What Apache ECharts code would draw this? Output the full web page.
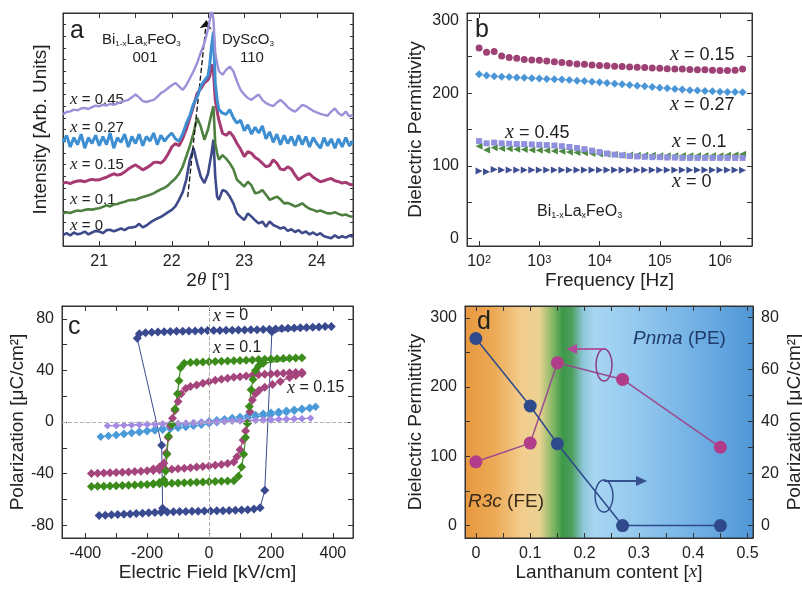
<!DOCTYPE html>
<html><head><meta charset="utf-8">
<script src="https://cdn.jsdelivr.net/npm/echarts@6/dist/echarts.min.js"></script>
<style>html,body{margin:0;padding:0;background:#fff}#c{width:802px;height:590px}</style>
</head><body><div id="c"></div><script>
// ---------- Panel a: XRD ----------
const twoTheta = [20.5,20.55,20.6,20.65,20.7,20.75,20.8,20.85,20.9,20.95,
21.0,21.05,21.1,21.15,21.2,21.25,21.3,21.35,21.4,21.45,
21.5,21.55,21.6,21.65,21.7,21.75,21.8,21.85,21.9,21.95,
22.0,22.05,22.1,22.15,22.2,22.25,22.3,22.35,22.4,22.45,
22.5,22.525,22.55,22.575,22.6,22.625,22.65,22.7,22.75,22.8,
22.85,22.9,22.95,23.0,23.05,23.1,23.15,23.2,23.25,23.3,
23.35,23.4,23.45,23.5,23.55,23.6,23.65,23.7,23.75,23.8,
23.85,23.9,23.95,24.0,24.05,24.1,24.15,24.2,24.25,24.3,
24.35,24.4,24.45,24.5];
const xrd045 = [56.5,57.5,57.8,58.5,58.2,59.0,59.3,58.8,59.6,60.2,
60.0,60.6,60.3,61.0,60.6,61.2,61.8,62.3,62.7,63.8,
65.0,63.8,62.2,61.8,62.3,62.7,64.0,65.6,66.5,67.8,
69.0,70.0,68.5,67.0,69.0,72.0,75.0,78.5,83.0,87.0,
93.0,97.0,102,97.0,83.0,78.5,75.0,73.5,75.6,77.0,
75.0,70.6,67.0,65.0,63.5,62.7,64.0,65.0,62.7,61.3,
60.6,60.0,61.6,62.7,61.3,59.6,58.4,57.7,59.0,60.6,
60.0,59.0,58.0,57.3,56.7,56.3,55.9,57.7,59.0,57.0,
56.0,57.7,55.6,56.3];
const xrd027 = [44.5,47.5,42.5,46.5,43.5,48.0,42.0,46.5,44.0,47.5,
43.0,47.0,43.5,48.5,42.0,46.5,44.5,48.0,42.5,47.0,
44.0,48.0,43.0,47.0,45.0,48.5,43.5,47.5,45.0,47.0,
48.5,46.0,45.0,48.0,52.5,56.0,61.0,64.0,68.5,71.0,
73.0,78.0,86.0,92.0,70.0,63.0,58.5,57.0,56.5,58.5,
55.0,52.7,54.0,49.5,52.0,48.0,51.0,48.5,51.5,46.0,
49.0,44.5,48.0,43.5,47.5,44.0,47.0,43.0,47.5,43.5,
47.0,42.5,46.5,44.0,42.0,46.5,43.0,46.0,42.0,46.0,
42.5,46.5,43.0,45.0];
const xrd015 = [27.0,27.3,26.8,27.5,27.9,28.0,27.6,28.2,28.6,28.3,
28.4,29.0,29.5,30.3,31.0,30.4,30.8,31.8,33.0,34.0,
34.8,33.8,32.7,33.5,34.5,35.8,36.0,35.6,37.0,39.5,
42.5,44.0,43.0,46.0,50.0,55.0,60.0,65.5,67.5,70.0,
71.3,73.0,78.0,75.0,62.7,58.0,54.0,48.4,47.5,49.0,
47.0,44.0,41.5,38.4,40.5,39.8,38.0,37.0,35.5,34.0,
34.5,37.0,35.5,33.0,32.7,34.0,33.0,30.5,28.4,29.5,
30.5,31.0,29.5,28.5,27.6,28.0,28.6,29.0,28.0,27.6,
27.0,27.3,26.5,26.2];
const xrd010 = [14.0,14.5,14.2,14.8,15.2,15.0,15.5,15.8,15.6,16.0,
16.2,16.8,17.5,17.0,17.8,18.0,18.6,19.0,19.5,19.8,
19.8,20.5,21.0,21.5,22.0,22.6,23.5,24.3,25.0,26.0,
27.6,29.0,31.0,34.0,38.4,43.0,48.4,55.0,51.3,45.6,
50.0,53.5,57.0,60.0,44.0,40.0,37.0,39.0,37.5,35.5,
33.0,28.4,27.0,25.5,27.6,26.0,22.6,23.0,24.0,22.0,
19.8,20.5,21.2,20.0,18.3,18.5,17.8,17.0,17.5,18.3,
17.0,16.0,15.5,14.8,15.2,14.6,14.0,14.0,14.5,13.8,
13.2,13.5,12.8,12.6];
const xrd000 = [4.7,5.5,4.5,5.8,5.0,5.4,6.2,5.0,5.8,6.5,
6.2,5.5,6.8,7.0,6.3,6.9,7.5,6.8,7.8,8.0,
8.3,9.5,8.0,8.8,10.0,11.0,11.8,12.5,13.5,14.5,
15.5,17.0,19.8,23.0,28.4,37.0,42.0,35.5,29.8,27.0,
31.0,35.5,40.0,45.6,29.8,21.2,19.8,24.0,23.4,21.2,
18.3,14.0,12.5,11.2,14.0,12.6,11.0,9.7,10.5,8.3,
10.5,9.0,8.3,7.5,8.0,6.5,7.2,6.0,6.8,5.5,
6.2,5.0,5.8,4.7,5.5,4.2,3.8,3.3,4.6,3.5,
4.2,3.6,4.5,4.0];
const arrowStart = [22.22, 21];
const arrowEnd = [22.48, 97];

// ---------- Panel b: dielectric vs frequency ----------
const freq = [100,133,178,237,316,422,562,750,1000,1330,1780,2370,3160,4220,5620,7500,
10000,13300,17800,23700,31600,42200,56200,75000,100000,133000,178000,237000,316000,422000,562000,750000,
1000000,1330000,1780000,2370000];
const eps015 = [262,256,257,251,249,248,246,245.5,245,244,243,242,241,240,239.5,238.5,238,237.5,237,236.5,
236,235.5,235,234.5,234,233.5,233,233,232.5,232,232,231.5,231,231,231.5,233];
const eps027 = [226,224,223,222.5,222,221.5,221,220.5,220,219.5,219,218.5,218,217,216.5,215.5,215,214,213,212,
211,210,209.5,208.5,207.5,206.5,205.5,205,204,203.5,203,202.5,202,201.5,201.5,201];
const eps045 = [134,131,132,131,130.5,130,130,129.5,129,128.5,128,127,126,124.5,123,121,119,117,115.5,114.5,
113.5,113,112.5,112,112,111.5,111.5,111,111,111,111,111,111,111,111,111];
const eps010 = [127,122,125,124,123.5,123,122.5,122,121.5,121,120.5,120,119,118.5,118,117,116.5,116,115.5,115,
115,114.5,114.5,114.5,114,114,114,114,114,114,114,114,114,114.5,115,116];
const eps000 = [93,92,95,94.5,94.5,94.5,94.5,94.5,94.5,94.5,94.5,94.5,94.5,94.5,94.5,94.5,94.5,94.5,94.5,94.5,
94.5,94.5,94.5,94.5,94.5,94.5,94.5,94.5,94.5,94.5,94.5,94.5,94.5,94.5,94.5,94];

// ---------- Panel c: hysteresis loops ----------
const navyLowE = [-355,-335,-315,-295,-275,-255,-235,-215,-195,-175,-155,-135,-115,-95,-75,-55,-35,-15,5,25,45,65,85,105,125,145,165,180,203];
const navyLowP = [-72.5,-72.3,-72,-71.8,-71.6,-71.3,-71,-70.8,-70.5,-70.2,-70,-69.8,-69.6,-69.5,-69.4,-69.3,-69.2,-69.1,-69,-68.9,-68.8,-68.6,-68.4,-68.2,-68,-67.5,-66.5,-53,70];
const navyUpE = [395,375,355,335,315,295,275,255,235,215,195,175,155,135,115,95,75,55,35,15,-5,-25,-45,-65,-85,-105,-125,-145,-165,-185,-205,-225,-232,-153,-150];
const navyUpP = [74,74,73.8,73.6,73.4,73.2,73,72.8,72.5,72.2,72,71.8,71.6,71.5,71.4,71.3,71.2,71.1,71,71,70.9,70.8,70.7,70.6,70.5,70.4,70.2,70,69.8,69.6,69.3,68.5,65,-18,-67];
const greenLowE = [-380,-360,-340,-320,-300,-280,-260,-240,-220,-200,-180,-160,-140,-120,-100,-80,-60,-40,-20,0,20,40,60,80,95,105,112,118,124,130,136,142,150,160,175];
const greenLowP = [-50,-49.9,-49.8,-49.6,-49.4,-49.2,-49,-48.8,-48.6,-48.4,-48.2,-48,-47.8,-47.6,-47.4,-47.2,-47,-46.8,-46.6,-46.4,-46.2,-46,-45.8,-45.5,-42,-35,-25,-12,-1,12,25,33,40,43.5,45.5];
const greenUpE = [300,280,260,240,220,200,180,160,140,120,100,80,60,40,20,0,-20,-40,-60,-80,-92,-97,-102,-110,-120,-131,-136,-140,-146,-160,-180];
const greenUpP = [49.8,49.6,49.4,49.2,49,48.8,48.6,48.4,48.2,48,47.8,47.6,47.4,47.2,47,46.8,46.6,46.4,46.1,45.5,42,32,22,10,-2,-11,-25,-38,-45,-47,-48];
const magLowE = [-380,-360,-340,-320,-300,-280,-260,-240,-220,-200,-180,-160,-140,-120,-100,-80,-60,-40,-20,0,20,40,60,80,90,100,110,118,124,132,140,150,162,180,205,230,260,280,300];
const magLowP = [-40,-39.8,-39.6,-39.4,-39.2,-39,-38.8,-38.5,-38.2,-37.9,-37.6,-37.3,-37,-36.6,-36.2,-35.8,-35.4,-35,-34.6,-34.2,-33.6,-33,-32.2,-31,-27,-21.5,-14,-7,-1,8,17,22,24.7,27,29,31.5,34.5,36,37.5];
const magUpE = [300,280,260,240,220,200,180,160,140,120,100,80,60,40,20,0,-20,-40,-60,-75,-90,-100,-110,-118,-125,-132,-138,-146,-160,-180];
const magUpP = [38.6,38.4,38.2,37.9,37.6,37.3,37,36.6,36.2,35.7,35.2,34.7,34,33.2,32.3,31.2,30,28.8,27.5,26,22,16,9,3,-3,-12,-24,-32,-35,-36.5];
const lbE = [-350,-325,-300,-275,-250,-225,-200,-175,-150,-125,-100,-75,-50,-25,0,25,50,75,100,125,150,175,200,225,250,275,300,325,344];
const lbLow = [-11.5,-10.9,-10.2,-9.5,-8.8,-8.1,-7.4,-6.8,-6.2,-5.5,-4.7,-4.0,-3.2,-2.3,-1.3,-0.3,0.6,1.5,2.3,3.1,3.9,4.8,5.7,6.6,7.5,8.5,9.5,10.5,11.8];
const lbUp = [-11.5,-10.7,-9.9,-9.0,-8.2,-7.3,-6.5,-5.6,-4.7,-3.8,-2.9,-2.0,-1.1,-0.2,0.7,1.6,2.4,3.3,4.1,4.9,5.7,6.5,7.3,8.1,8.9,9.7,10.5,11.2,11.8];
const laE = [-328,-300,-275,-250,-225,-200,-175,-150,-125,-100,-75,-50,-25,0,25,50,75,100,125,150,175,200,225,250,275,300,328];
const laLow = [-3.0,-3.0,-2.8,-2.6,-2.4,-2.2,-2.0,-1.8,-1.5,-1.3,-1.1,-0.9,-0.6,-0.4,-0.2,0.1,0.3,0.5,0.8,1.0,1.2,1.4,1.7,1.9,2.1,2.4,2.9];
const laUp = [-3.0,-2.6,-2.3,-2.1,-1.9,-1.6,-1.4,-1.2,-0.9,-0.7,-0.5,-0.2,0,0.3,0.5,0.7,1.0,1.2,1.4,1.6,1.9,2.1,2.3,2.5,2.7,2.8,2.9];

// ---------- Panel d: vs La content ----------
const laContent = [0, 0.1, 0.15, 0.27, 0.45];
const permittivity = [92, 119, 235, 211, 113];
const polarization = [72, 46, 31.5, 0, 0];

// ---------- styling ----------
const FONT = '"Liberation Sans", Arial, sans-serif';
const SERIF = '"Liberation Serif", "Times New Roman", serif';
const TXT = '#222';
const AX = '#333';

function pairs(xs, ys) { return xs.map((x, i) => [x, ys[i]]); }
function loop(lowE, lowP, upE, upP) { return pairs(lowE, lowP).concat(pairs(upE, upP)); }

function axisBase(gi, pos, extra) {
  const labeled = (pos === 'bottom' || pos === 'left') || extra.labeled;
  const o = {
    type: 'value', gridIndex: gi, position: pos,
    axisLine: { show: true, onZero: false, lineStyle: { color: AX, width: 1 } },
    axisTick: { show: true, inside: true, length: 5, lineStyle: { color: AX, width: 1 } },
    splitLine: { show: false },
    axisLabel: labeled ? { show: true, color: TXT, fontSize: 16, fontFamily: FONT, margin: 8, showMinLabel: false, showMaxLabel: false } : { show: false },
    nameTextStyle: { color: TXT, fontSize: 19, fontFamily: FONT }
  };
  delete extra.labeled;
  const fmt = extra.fmt; delete extra.fmt;
  if (fmt && labeled) o.axisLabel.formatter = fmt;
  if (extra.rich && labeled) { o.axisLabel.rich = extra.rich; }
  delete extra.rich;
  return Object.assign(o, extra);
}

const near = (v, m) => Math.abs(v / m - Math.round(v / m)) < 1e-6;
const fmtA = v => near(v, 1) ? String(Math.round(v)) : '';
const fmtB = v => { const e = Math.log10(v); return Math.abs(e - Math.round(e)) < 1e-6 ? '10{s|' + Math.round(e) + '}' : ''; };
const fmtBy = v => near(v, 100) ? String(Math.round(v)) : '';
const fmtCx = v => near(v, 200) ? String(Math.round(v)) : '';
const fmtCy = v => near(v, 40) ? String(Math.round(v)) : '';
const fmtDx = v => near(v, 0.1) ? (Math.abs(v) < 1e-9 ? '0' : v.toFixed(1)) : '';
const fmtDy2 = v => near(v, 20) ? String(Math.round(v)) : '';

const italicX = { fontFamily: SERIF, fontStyle: 'italic' };

const xAxes = [
  axisBase(0, 'bottom', { min: 20.5, max: 24.5, interval: 0.5, fmt: fmtA,
    name: '2{i|θ} [°]', nameLocation: 'middle', nameGap: 20,
    nameTextStyle: { color: TXT, fontSize: 19, fontFamily: FONT, rich: { i: Object.assign({ fontSize: 19, color: TXT }, italicX) } } }),
  axisBase(0, 'top', { min: 20.5, max: 24.5, interval: 0.5 }),
  axisBase(1, 'bottom', { type: 'log', logBase: 10, min: 63, max: 3400000, fmt: fmtB,
    rich: { s: { fontSize: 11, verticalAlign: 'top', fontFamily: FONT, color: TXT } },
    name: 'Frequency [Hz]', nameLocation: 'middle', nameGap: 22 }),
  axisBase(1, 'top', { type: 'log', logBase: 10, min: 63, max: 3400000 }),
  axisBase(2, 'bottom', { min: -475, max: 465, splitNumber: 9, minInterval: 100, maxInterval: 100, fmt: fmtCx,
    name: 'Electric Field [kV/cm]', nameLocation: 'middle', nameGap: 24 }),
  axisBase(2, 'top', { min: -475, max: 465, splitNumber: 9, minInterval: 100, maxInterval: 100 }),
  axisBase(3, 'bottom', { min: -0.02, max: 0.51, splitNumber: 10, minInterval: 0.05, maxInterval: 0.05, fmt: fmtDx,
    name: 'Lanthanum content [{i|x}]', nameLocation: 'middle', nameGap: 24,
    nameTextStyle: { color: TXT, fontSize: 19, fontFamily: FONT, rich: { i: Object.assign({ fontSize: 19, color: TXT }, italicX) } } }),
  axisBase(3, 'top', { min: -0.02, max: 0.51, splitNumber: 10, minInterval: 0.05, maxInterval: 0.05 })
];
const yAxes = [
  axisBase(0, 'left', { min: 0, max: 100, interval: 5, axisLabel: { show: false },
    axisTick: { show: true, inside: true, length: 3, lineStyle: { color: AX } },
    name: 'Intensity [Arb. Units]', nameLocation: 'middle', nameGap: 13 }),
  axisBase(0, 'right', { min: 0, max: 100, interval: 5, axisTick: { show: true, inside: true, length: 3, lineStyle: { color: AX } } }),
  axisBase(1, 'left', { min: -10, max: 310, splitNumber: 6, minInterval: 50, maxInterval: 50, fmt: fmtBy,
    name: 'Dielectric Permittivity', nameLocation: 'middle', nameGap: 42 }),
  axisBase(1, 'right', { min: -10, max: 310, splitNumber: 6, minInterval: 50, maxInterval: 50 }),
  axisBase(2, 'left', { min: -90, max: 90, splitNumber: 9, minInterval: 20, maxInterval: 20, fmt: fmtCy,
    name: 'Polarization [μC/cm²]', nameLocation: 'middle', nameGap: 34 }),
  axisBase(2, 'right', { min: -90, max: 90, splitNumber: 9, minInterval: 20, maxInterval: 20 }),
  axisBase(3, 'left', { min: -18, max: 317, splitNumber: 7, minInterval: 50, maxInterval: 50, fmt: fmtBy,
    name: 'Dielectric Permittivity', nameLocation: 'middle', nameGap: 40 }),
  axisBase(3, 'right', { labeled: true, min: -4.8, max: 84.5, splitNumber: 9, minInterval: 10, maxInterval: 10, fmt: fmtDy2,
    name: 'Polarization [μC/cm²]', nameLocation: 'middle', nameGap: 32, nameRotate: 90 })
];

function xrdSeries(data, color, z, w) {
  return { type: 'line', xAxisIndex: 0, yAxisIndex: 0, data: pairs(twoTheta, data), showSymbol: false, symbol: 'none',
    lineStyle: { color, width: w || 2.6 }, z, silent: true };
}
function dotSeries(ys, color, symbol, size, rot) {
  return { type: 'scatter', xAxisIndex: 2, yAxisIndex: 2, data: pairs(freq, ys), symbol, symbolSize: size, symbolRotate: rot || 0,
    itemStyle: { color, opacity: 1 }, silent: true };
}
function loopSeries(data, color, size, lw) {
  return { type: 'line', xAxisIndex: 4, yAxisIndex: 4, data, symbol: 'diamond', symbolSize: size, showAllSymbol: true,
    itemStyle: { color }, lineStyle: { color, width: lw }, silent: true };
}

const series = [
  xrdSeries(xrd000, '#3f4a8a', 2),
  xrdSeries(xrd010, '#4e8040', 3),
  xrdSeries(xrd015, '#a63a72', 4, 3),
  xrdSeries(xrd027, '#3d8fd1', 5, 3),
  Object.assign(xrdSeries(xrd045, '#9d8fd8', 6, 2.4), {
    markLine: { silent: true, symbol: ['none', 'arrow'], symbolSize: 9, animation: false,
      lineStyle: { type: 'dashed', color: '#111', width: 1.3 }, label: { show: false },
      data: [[{ coord: arrowStart }, { coord: arrowEnd }]] } }),
  dotSeries(eps000, '#3e4e92', 'triangle', 7, -90),
  dotSeries(eps010, '#4c8a42', 'triangle', 7, 90),
  dotSeries(eps045, '#8f8fe0', 'rect', 6),
  dotSeries(eps027, '#4a96d6', 'diamond', 8),
  dotSeries(eps015, '#9e4275', 'circle', 7),
  Object.assign(loopSeries(pairs(lbE, lbLow).concat(pairs(lbE, lbUp).reverse()), '#4b9ad8', 8, 1), {
    markLine: { silent: true, symbol: ['none', 'none'], animation: false, label: { show: false },
      lineStyle: { type: 'dashed', color: '#b0b0b0', width: 1 },
      data: [{ yAxis: 0 }, { xAxis: 0 }] } }),
  loopSeries(pairs(laE, laLow).concat(pairs(laE, laUp).reverse()), '#a48ae2', 7, 1),
  loopSeries(loop(magLowE, magLowP, magUpE, magUpP), '#a5457e', 9, 1.2),
  loopSeries(loop(greenLowE, greenLowP, greenUpE, greenUpP), '#3c8c1c', 9, 1.2),
  loopSeries(loop(navyLowE, navyLowP, navyUpE, navyUpP), '#3a4a90', 9, 1),
  { type: 'line', xAxisIndex: 6, yAxisIndex: 6, data: pairs(laContent, permittivity), symbol: 'circle', symbolSize: 13,
    itemStyle: { color: '#b13c8a' }, lineStyle: { color: '#9a4a8e', width: 1.5 }, silent: true },
  { type: 'line', xAxisIndex: 6, yAxisIndex: 7, data: pairs(laContent, polarization), symbol: 'circle', symbolSize: 13,
    itemStyle: { color: '#2e4a8c' }, lineStyle: { color: '#2e4a8c', width: 1.5 }, silent: true }
];

const xlab = (x, y, rest, fs) => ({ type: 'text', x, y, style: {
  text: '{i|x}{n| = ' + rest + '}', verticalAlign: 'middle', align: 'left', fill: TXT,
  rich: { i: Object.assign({ fontSize: fs + 2, fill: TXT, color: TXT }, italicX), n: { fontSize: fs, fontFamily: FONT, fill: TXT, color: TXT } } } });
const plain = (x, y, text, fs, extra) => ({ type: 'text', x, y, style: Object.assign({
  text, fontSize: fs, fontFamily: FONT, fill: TXT, align: 'left', verticalAlign: 'middle' }, extra || {}) });
const subRich = fs => ({ n: { fontSize: fs, fontFamily: FONT, fill: TXT, color: TXT },
  s: { fontSize: Math.round(fs * 0.55), fontFamily: FONT, fill: TXT, color: TXT, verticalAlign: 'bottom' } });

const graphic = [
  plain(70, 31, 'a', 25),
  { type: 'text', x: 102, y: 40, style: { text: '{n|Bi}{s|1-x}{n|La}{s|x}{n|FeO}{s|3}', rich: subRich(15), verticalAlign: 'middle', align: 'left' } },
  plain(145, 58, '001', 15, { align: 'center' }),
  { type: 'text', x: 222, y: 40, style: { text: '{n|DyScO}{s|3}', rich: subRich(15), verticalAlign: 'middle', align: 'left' } },
  plain(252, 58, '110', 15, { align: 'center' }),
  xlab(70, 100, '0.45', 15), xlab(70, 128, '0.27', 15), xlab(70, 165, '0.15', 15), xlab(70, 200, '0.1', 15), xlab(70, 226, '0', 15),
  plain(475, 30, 'b', 25),
  xlab(670, 55, '0.15', 18), xlab(670, 105, '0.27', 18), xlab(505, 133, '0.45', 18), xlab(672, 142, '0.1', 18), xlab(672, 182, '0', 18),
  { type: 'text', x: 537, y: 212, style: { text: '{n|Bi}{s|1-x}{n|La}{s|x}{n|FeO}{s|3}', rich: subRich(16), verticalAlign: 'middle', align: 'left' } },
  plain(68, 327, 'c', 25),
  xlab(213, 316, '0', 16), xlab(213, 348, '0.1', 16), xlab(287, 388, '0.15', 16),
  plain(477, 322, 'd', 25),
  { type: 'text', x: 633, y: 339, style: { text: '{i|Pnma}{n| (PE)}', verticalAlign: 'middle', align: 'left',
    rich: { i: { fontSize: 19, fontFamily: FONT, fontStyle: 'italic', fill: '#1f3c6c', color: '#1f3c6c' }, n: { fontSize: 19, fontFamily: FONT, fill: '#1f3c6c', color: '#1f3c6c' } } } },
  { type: 'text', x: 468, y: 502, style: { text: '{i|R3c}{n| (FE)}', verticalAlign: 'middle', align: 'left',
    rich: { i: { fontSize: 19, fontFamily: FONT, fontStyle: 'italic', fill: '#3a2a1a', color: '#3a2a1a' }, n: { fontSize: 19, fontFamily: FONT, fill: '#3a2a1a', color: '#3a2a1a' } } } },
  { type: 'ellipse', shape: { cx: 604, cy: 365, rx: 8, ry: 16 }, style: { fill: 'none', stroke: '#8e3f86', lineWidth: 1.5 }, z: 100 },
  { type: 'line', shape: { x1: 606, y1: 349, x2: 574, y2: 349 }, style: { stroke: '#b04a9a', lineWidth: 1.8 }, z: 100 },
  { type: 'polygon', shape: { points: [[566, 349], [577, 344], [577, 354]] }, style: { fill: '#b04a9a' }, z: 100 },
  { type: 'ellipse', shape: { cx: 604, cy: 496, rx: 9, ry: 16 }, style: { fill: 'none', stroke: '#34508e', lineWidth: 1.5 }, z: 100 },
  { type: 'line', shape: { x1: 604, y1: 481, x2: 638, y2: 481 }, style: { stroke: '#34508e', lineWidth: 1.8 }, z: 100 },
  { type: 'polygon', shape: { points: [[647, 481], [636, 476], [636, 486]] }, style: { fill: '#34508e' }, z: 100 }
];

const gradD = { type: 'linear', x: 0, y: 0, x2: 1, y2: 0, colorStops: [
  { offset: 0, color: '#e8983f' }, { offset: 0.1, color: '#eca955' }, { offset: 0.2, color: '#f3cd8e' },
  { offset: 0.26, color: '#e9d292' }, { offset: 0.30, color: '#8fbb6a' }, { offset: 0.34, color: '#3d984a' },
  { offset: 0.37, color: '#4a9e5a' }, { offset: 0.41, color: '#8cc6d8' }, { offset: 0.45, color: '#a8d6f2' },
  { offset: 0.6, color: '#93c8ee' }, { offset: 0.8, color: '#72b0e4' }, { offset: 1, color: '#4f97d8' } ] };

const gridBase = { show: true, borderColor: AX, borderWidth: 1, backgroundColor: 'transparent', containLabel: false, outerBoundsMode: 'none' };
const option = {
  animation: false,
  backgroundColor: '#fff',
  textStyle: { fontFamily: FONT },
  grid: [
    Object.assign({}, gridBase, { left: 63, top: 13, width: 290, height: 233 }),
    Object.assign({}, gridBase, { left: 467, top: 13, width: 285, height: 233 }),
    Object.assign({}, gridBase, { left: 62, top: 306, width: 291, height: 232 }),
    Object.assign({}, gridBase, { left: 465, top: 306, width: 288, height: 232, backgroundColor: gradD })
  ],
  xAxis: xAxes,
  yAxis: yAxes,
  series,
  graphic
};
const chart = echarts.init(document.getElementById('c'), null, { renderer: 'canvas' });
chart.setOption(option);
</script></body></html>
